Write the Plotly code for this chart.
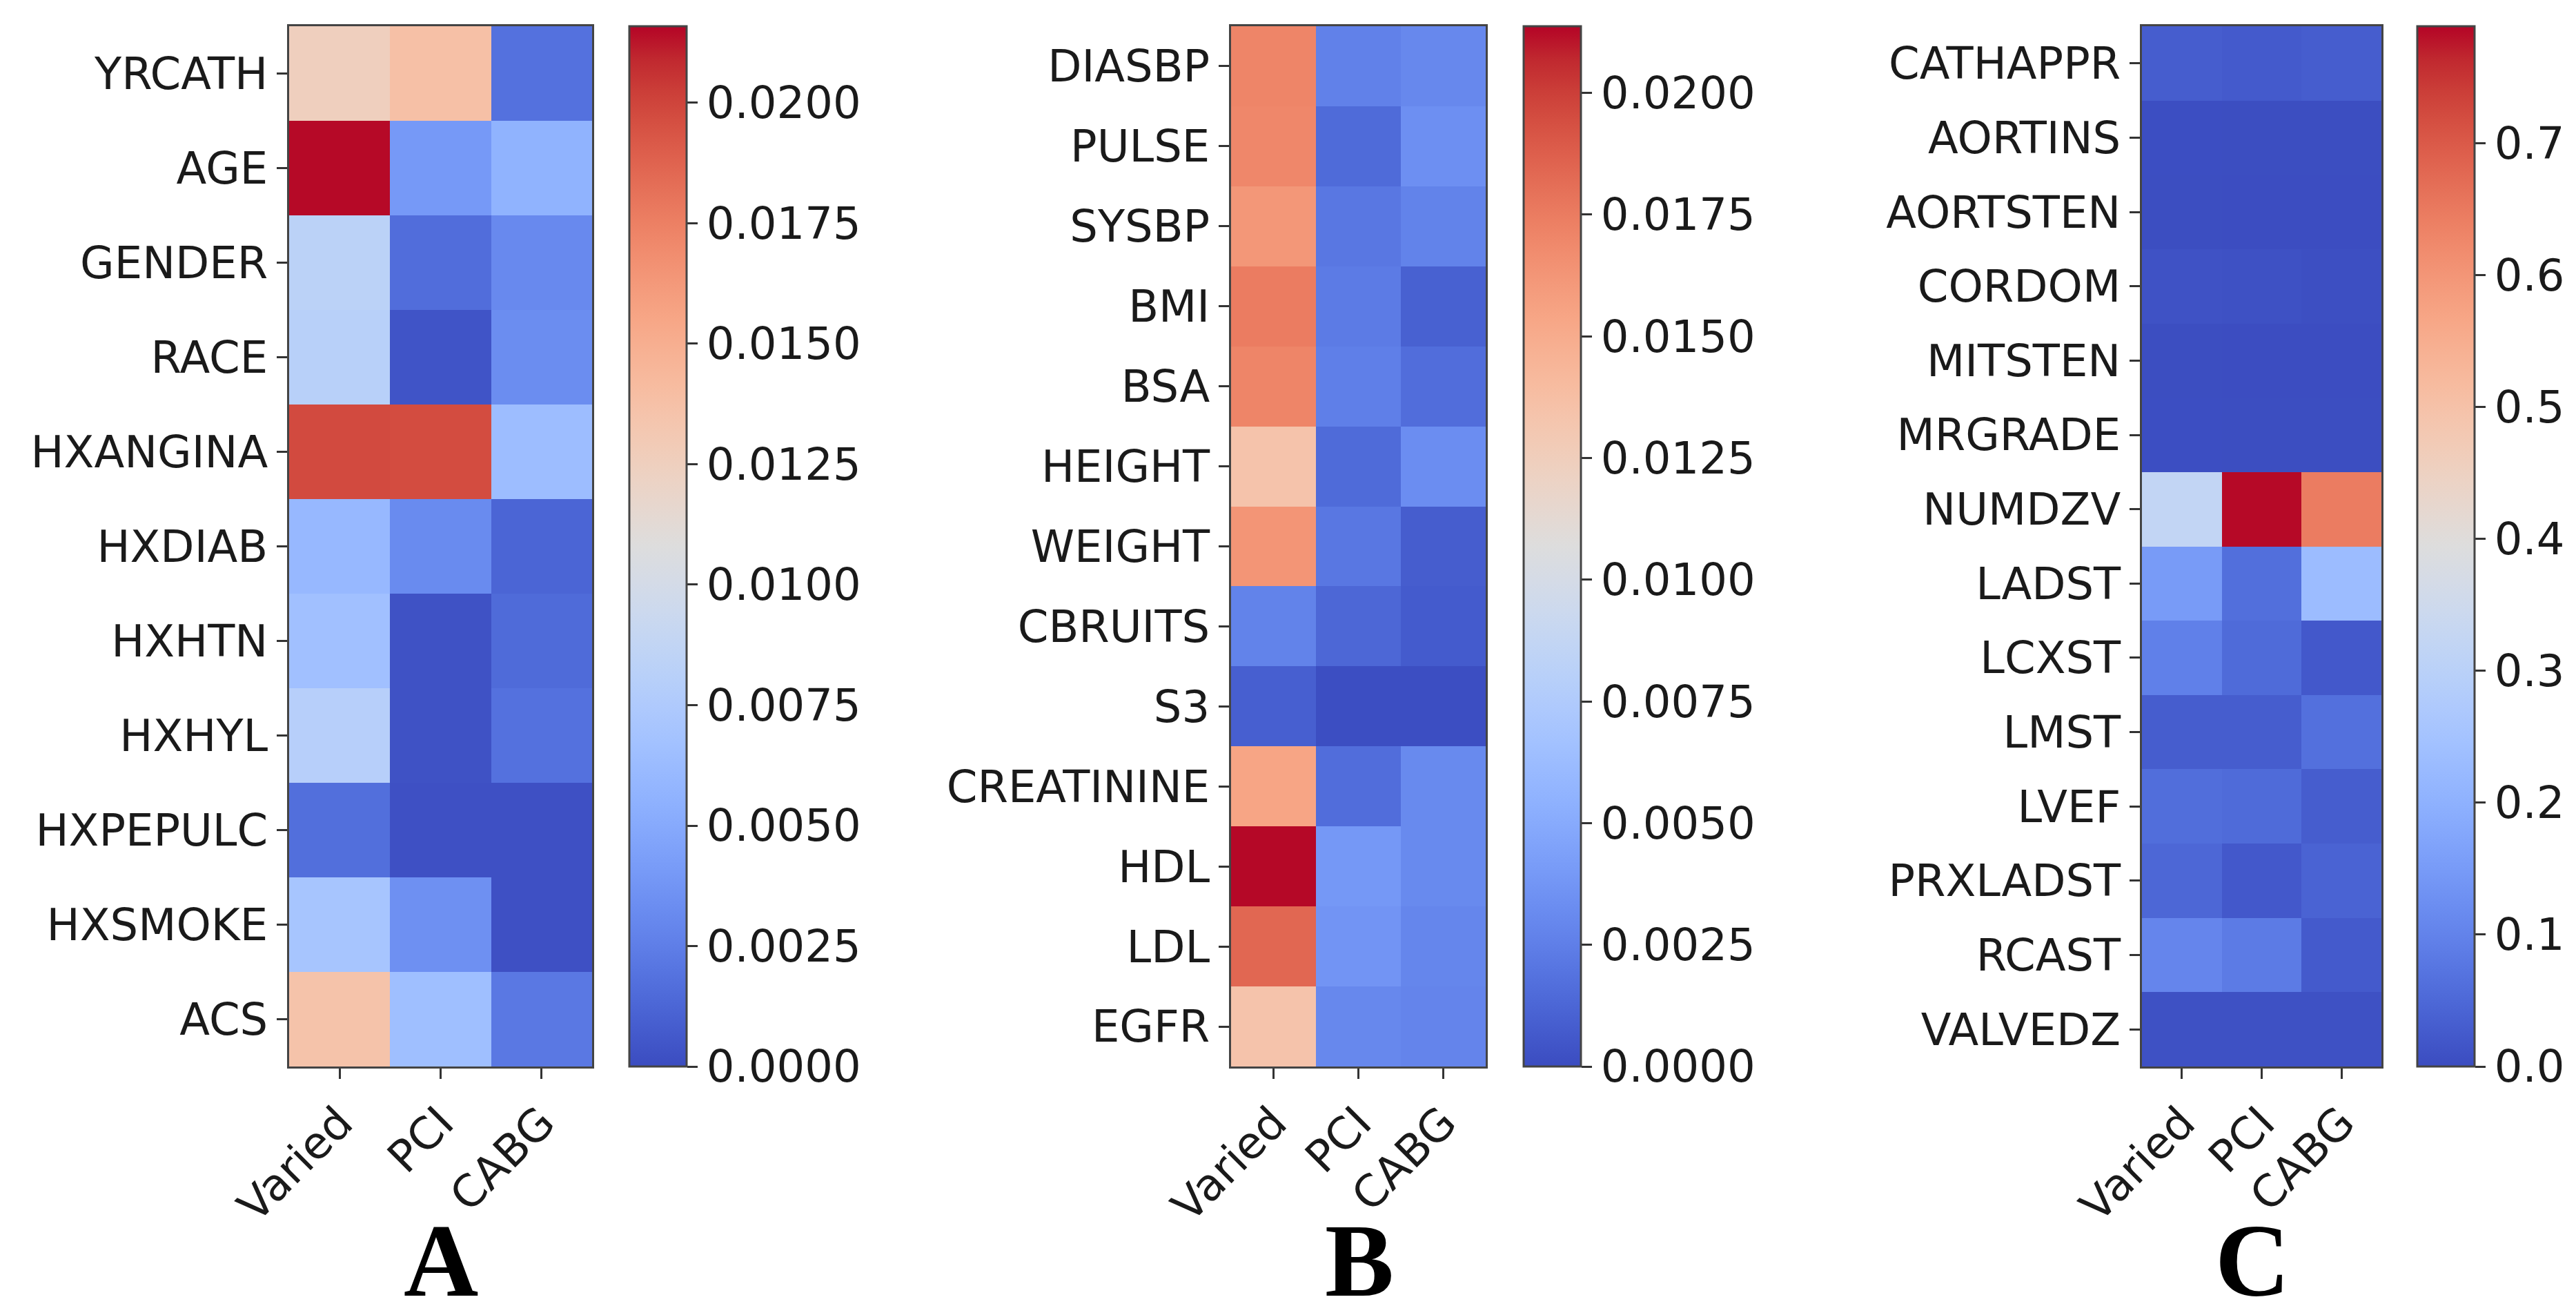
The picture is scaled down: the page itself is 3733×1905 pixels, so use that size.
import plotly.graph_objects as go

W, H = 3733, 1905

treatments = ["Varied", "PCI", "CABG"]

rows_a = ["YRCATH", "AGE", "GENDER", "RACE", "HXANGINA", "HXDIAB", "HXHTN",
          "HXHYL", "HXPEPULC", "HXSMOKE", "ACS"]
varied_a = [0.0125, 0.0215, 0.0083, 0.0081, 0.0198, 0.0060, 0.0066, 0.0080, 0.0017, 0.0070, 0.0136]
pci_a    = [0.0138, 0.0040, 0.0016, 0.0004, 0.0197, 0.0032, 0.0003, 0.0003, 0.0002, 0.0035, 0.0065]
cabg_a   = [0.0018, 0.0056, 0.0031, 0.0033, 0.0064, 0.0012, 0.0015, 0.0018, 0.0002, 0.0002, 0.0022]

rows_b = ["DIASBP", "PULSE", "SYSBP", "BMI", "BSA", "HEIGHT", "WEIGHT", "CBRUITS",
          "S3", "CREATININE", "HDL", "LDL", "EGFR"]
varied_b = [0.0171, 0.0170, 0.0162, 0.0175, 0.0171, 0.0134, 0.0163, 0.0027, 0.0009, 0.0154, 0.0213, 0.0184, 0.0134]
pci_b    = [0.0026, 0.0015, 0.0021, 0.0023, 0.0025, 0.0015, 0.0021, 0.0013, 0.0001, 0.0016, 0.0039, 0.0037, 0.0030]
cabg_b   = [0.0030, 0.0034, 0.0027, 0.0010, 0.0016, 0.0033, 0.0008, 0.0007, 0.0001, 0.0031, 0.0031, 0.0029, 0.0028]

rows_c = ["CATHAPPR", "AORTINS", "AORTSTEN", "CORDOM", "MITSTEN", "MRGRADE", "NUMDZV",
          "LADST", "LCXST", "LMST", "LVEF", "PRXLADST", "RCAST", "VALVEDZ"]
varied_c = [0.030, 0.004, 0.003, 0.010, 0.003, 0.004, 0.320, 0.150, 0.095, 0.030, 0.060, 0.048, 0.105, 0.008]
pci_c    = [0.025, 0.003, 0.002, 0.008, 0.002, 0.003, 0.785, 0.062, 0.055, 0.030, 0.055, 0.022, 0.085, 0.008]
cabg_c   = [0.030, 0.003, 0.002, 0.005, 0.002, 0.003, 0.645, 0.230, 0.022, 0.065, 0.030, 0.040, 0.025, 0.008]

zmax_a, zmax_b, zmax_c = 0.02159, 0.02137, 0.7885
ticks_ab = [0.0, 0.0025, 0.005, 0.0075, 0.01, 0.0125, 0.015, 0.0175, 0.02]
ticks_c = [0.0, 0.1, 0.2, 0.3, 0.4, 0.5, 0.6, 0.7]
panel_letters = ["A", "B", "C"]

# matplotlib "coolwarm"
cw = [(59, 76, 192), (68, 90, 204), (77, 104, 215), (87, 117, 225), (98, 130, 234),
      (108, 142, 241), (119, 154, 247), (130, 165, 251), (141, 176, 254), (152, 185, 255),
      (163, 194, 255), (174, 201, 253), (184, 208, 249), (194, 213, 244), (204, 217, 238),
      (213, 219, 230), (221, 221, 221), (229, 216, 209), (236, 211, 197), (241, 204, 184),
      (245, 196, 172), (247, 187, 159), (247, 177, 147), (247, 166, 134), (244, 154, 123),
      (241, 141, 111), (236, 127, 99), (229, 112, 88), (222, 96, 77), (213, 80, 66),
      (203, 62, 56), (192, 40, 47), (180, 4, 38)]
coolwarm = [[i / (len(cw) - 1), "rgb(%d,%d,%d)" % c] for i, c in enumerate(cw)]

FONT = "DejaVu Sans"
FS = 64
top_px, bot_px = 30, 1537
y_dom = [1 - bot_px / H, 1 - top_px / H]

panels = [
    dict(rows=rows_a, cols=[varied_a, pci_a, cabg_a], zmax=zmax_a, ticks=ticks_ab, fmt="%.4f",
         x0=411, x1=850, cb=904, letter_x=631),
    dict(rows=rows_b, cols=[varied_b, pci_b, cabg_b], zmax=zmax_b, ticks=ticks_ab, fmt="%.4f",
         x0=1776, x1=2145, cb=2200, letter_x=1962),
    dict(rows=rows_c, cols=[varied_c, pci_c, cabg_c], zmax=zmax_c, ticks=ticks_c, fmt="%.1f",
         x0=3096, x1=3443, cb=3495, letter_x=3256),
]

fig = go.Figure()
layout = dict(width=W, height=H, margin=dict(l=0, r=0, t=0, b=0, autoexpand=False),
              paper_bgcolor="white", plot_bgcolor="white",
              font=dict(family=FONT, size=FS, color="#1a1a1a"), annotations=[])

for i, p in enumerate(panels):
    k = "" if i == 0 else str(i + 1)
    z = [[p["cols"][j][r] for j in range(3)] for r in range(len(p["rows"]))]
    fig.add_trace(go.Heatmap(
        z=z, x=treatments, y=p["rows"], xaxis="x" + k, yaxis="y" + k,
        colorscale=coolwarm, zmin=0, zmax=p["zmax"],
        colorbar=dict(x=p["cb"] / W, xanchor="left", xpad=0, ypad=0,
                      y=y_dom[1], yanchor="top", len=bot_px - top_px, lenmode="pixels",
                      thickness=83, thicknessmode="pixels",
                      outlinewidth=3, outlinecolor="#444",
                      tickvals=p["ticks"], ticktext=[p["fmt"] % t for t in p["ticks"]],
                      ticks="outside", ticklen=15, tickwidth=3, tickcolor="#333",
                      tickfont=dict(family=FONT, size=FS, color="#1a1a1a")),
        hoverongaps=False,
    ))
    layout["xaxis" + k] = dict(domain=[p["x0"] / W, p["x1"] / W], anchor="y" + k,
                               tickangle=-45, ticks="outside", ticklen=15, tickwidth=3,
                               tickcolor="#333", showline=True, linecolor="#444", linewidth=3,
                               mirror=True, showgrid=False, zeroline=False, automargin=False,
                               tickfont=dict(family=FONT, size=FS, color="#1a1a1a"))
    layout["yaxis" + k] = dict(domain=y_dom, anchor="x" + k, autorange="reversed",
                               ticks="outside", ticklen=15, tickwidth=3, tickcolor="#333",
                               showline=True, linecolor="#444", linewidth=3, mirror=True,
                               showgrid=False, zeroline=False, automargin=False,
                               tickfont=dict(family=FONT, size=FS, color="#1a1a1a"))
    layout["annotations"].append(dict(
        text="<b>%s</b>" % panel_letters[i], x=p["letter_x"] / W, y=1 - 1818 / H,
        xref="paper", yref="paper", xanchor="center", yanchor="middle", showarrow=False,
        font=dict(family="Liberation Serif", size=150, color="black")))

fig.update_layout(**layout)
fig.write_html("out.html")
